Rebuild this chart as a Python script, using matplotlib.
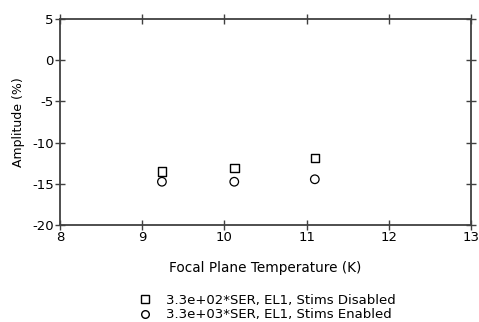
import matplotlib
matplotlib.use("Agg")
import matplotlib.pyplot as plt
from matplotlib.lines import Line2D

temps = [9.24, 10.12, 11.10]
amp_disabled = [-13.5, -13.1, -11.85]
amp_enabled = [-14.75, -14.75, -14.45]
labels = ["3.3e+02*SER, EL1, Stims Disabled", "3.3e+03*SER, EL1, Stims Enabled"]
xticks = [8, 9, 10, 11, 12, 13]
yticks = [-20, -15, -10, -5, 0, 5]

plt.rcParams['font.family'] = ['DejaVu Sans']
fig = plt.figure(figsize=(4.79, 3.22), dpi=100)
ax = fig.add_axes([60/479, 1-225/322, 411/479, 206/322])
axc = '#404040'
ax.scatter(temps, amp_disabled, marker='s', s=38, facecolors='none', edgecolors='black', linewidths=1.0)
ax.scatter(temps, amp_enabled, marker='o', s=38, facecolors='none', edgecolors='black', linewidths=0.9)
ax.set_xlim(8, 13)
ax.set_ylim(-20, 5)
ax.set_xticks(xticks)
ax.set_yticks(yticks)
ax.set_yticklabels([str(v) for v in yticks])
for s in ax.spines.values():
    s.set_color(axc)
    s.set_linewidth(1.3)
ax.tick_params(direction='inout', length=7, width=1, color=axc, labelsize=9.5,
               top=True, right=True, pad=1)
ax.set_xlabel('Focal Plane Temperature (K)', fontsize=9.8, labelpad=12)
ax.set_ylabel('Amplitude (%)', fontsize=9, labelpad=5)

handles = [Line2D([], [], linestyle='none', marker='s', markersize=6, markerfacecolor='none', markeredgecolor='black'),
           Line2D([], [], linestyle='none', marker='o', markersize=5.5, markerfacecolor='none', markeredgecolor='black')]
fig.legend(handles, labels, loc='center left', bbox_to_anchor=(133/479, 1-307.5/322), frameon=False,
           fontsize=9.5, handletextpad=1.2, labelspacing=0.12, handlelength=0.8, borderpad=0)
fig.savefig('out.png', dpi=100)
